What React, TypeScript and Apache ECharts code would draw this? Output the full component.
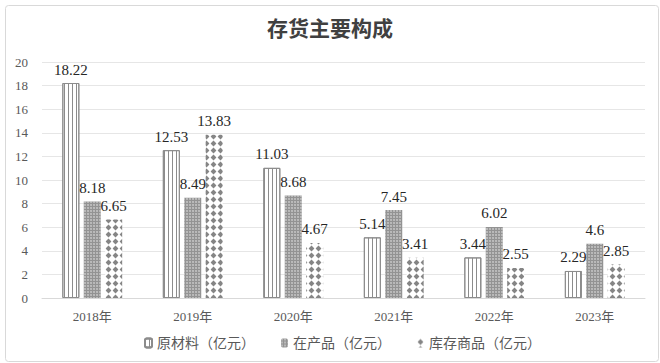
import React, { useEffect, useRef } from "react";
import * as echarts from "echarts";

const categories = ["2018年", "2019年", "2020年", "2021年", "2022年", "2023年"];
const seriesNames = ["原材料（亿元）", "在产品（亿元）", "库存商品（亿元）"];
const rawMaterials = [18.22, 12.53, 11.03, 5.14, 3.44, 2.29];
const workInProgress = [8.18, 8.49, 8.68, 7.45, 6.02, 4.6];
const finishedGoods = [6.65, 13.83, 4.67, 3.41, 2.55, 2.85];
const yTicks = { min: 0, max: 20, interval: 2 };

const SERIF = "'Liberation Serif', 'Times New Roman', 'Noto Sans CJK SC', serif";

function diamondPattern() {
  const s = 7;
  const c = document.createElement("canvas");
  c.width = s;
  c.height = s;
  const ctx = c.getContext("2d")!;
  ctx.fillStyle = "#ffffff";
  ctx.fillRect(0, 0, s, s);
  ctx.fillStyle = "#858585";
  ctx.beginPath();
  ctx.moveTo(3.5, 0.6);
  ctx.lineTo(6.4, 3.5);
  ctx.lineTo(3.5, 6.4);
  ctx.lineTo(0.6, 3.5);
  ctx.closePath();
  ctx.fill();
  return c;
}

export default function App() {
  const ref = useRef<HTMLDivElement>(null);
  useEffect(() => {
    if (!ref.current) return;
    const chart = echarts.init(ref.current, undefined, { renderer: "svg" });
    const label = {
      show: true,
      position: "top" as const,
      distance: 6,
      fontFamily: SERIF,
      fontSize: 15,
      color: "#262626",
    };
    chart.setOption({
      animation: false,
      backgroundColor: "#ffffff",
      title: {
        text: "存货主要构成",
        left: "center",
        top: 11,
        textStyle: {
          fontFamily: "'Noto Sans CJK SC', sans-serif",
          fontSize: 21,
          fontWeight: "bold",
          color: "#404040",
        },
      },
      graphic: [
        {
          type: "rect",
          left: 3,
          top: 3,
          shape: { width: 653, height: 356, r: 3 },
          style: { fill: "none", stroke: "#d9d9d9", lineWidth: 1 },
          silent: true,
        },
      ],
      legend: {
        bottom: 8,
        left: 139,
        itemWidth: 7,
        itemHeight: 9,
        itemGap: 26,
        textStyle: {
          fontFamily: SERIF,
          fontSize: 14,
          color: "#595959",
        },
        data: seriesNames,
      },
      grid: { left: 42, right: 15, top: 62, bottom: 65 },
      xAxis: {
        type: "category",
        data: categories,
        axisLine: { lineStyle: { color: "#d9d9d9" } },
        axisTick: { show: false },
        axisLabel: {
          fontFamily: SERIF,
          fontSize: 13,
          color: "#595959",
          margin: 12,
        },
      },
      yAxis: {
        type: "value",
        min: yTicks.min,
        max: yTicks.max,
        interval: yTicks.interval,
        axisLine: { show: false },
        axisTick: { show: false },
        splitLine: { lineStyle: { color: "#e6e6e6" } },
        axisLabel: {
          fontFamily: SERIF,
          fontSize: 13,
          color: "#595959",
          margin: 14,
        },
      },
      series: [
        {
          name: seriesNames[0],
          type: "bar",
          data: rawMaterials,
          barWidth: 17,
          barGap: "26%",
          label,
          itemStyle: {
            color: "#ffffff",
            borderColor: "#8c8c8c",
            borderWidth: 1,
            decal: {
              symbol: "rect",
              symbolSize: 1,
              color: "#8c8c8c",
              dashArrayX: [1, 3],
              dashArrayY: [4, 0],
              rotation: 0,
            },
          },
        },
        {
          name: seriesNames[1],
          type: "bar",
          data: workInProgress,
          barWidth: 17,
          barGap: "26%",
          label,
          itemStyle: {
            color: "#939393",
            decal: {
              symbol: "circle",
              symbolSize: 0.8,
              color: "rgba(255,255,255,0.55)",
              dashArrayX: [2, 1],
              dashArrayY: [2, 1],
              rotation: 0,
            },
          },
        },
        {
          name: seriesNames[2],
          type: "bar",
          data: finishedGoods,
          barWidth: 17,
          barGap: "26%",
          label,
          itemStyle: {
            color: { image: diamondPattern(), repeat: "repeat" },
          },
        },
      ],
    });
    return () => chart.dispose();
  }, []);
  return (
    <div
      ref={ref}
      style={{ position: "absolute", left: 0, top: 0, width: 660, height: 363 }}
    />
  );
}
